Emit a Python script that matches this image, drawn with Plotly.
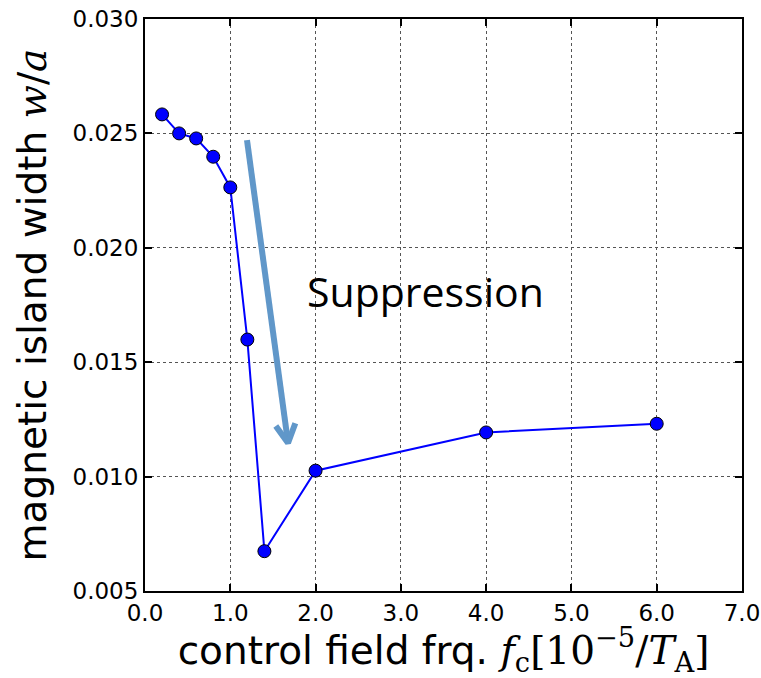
import math
import plotly.graph_objects as go

freq = [0.2, 0.4, 0.6, 0.8, 1.0, 1.2, 1.4, 2.0, 4.0, 6.0]
width = [0.02583, 0.02500, 0.02478, 0.02398, 0.02264, 0.01599, 0.00674, 0.01026, 0.01193, 0.01231]
x_ticks = [0, 1, 2, 3, 4, 5, 6, 7]
x_tick_labels = ["0.0", "1.0", "2.0", "3.0", "4.0", "5.0", "6.0", "7.0"]
y_ticks = [0.005, 0.010, 0.015, 0.020, 0.025, 0.030]
y_tick_labels = ["0.005", "0.010", "0.015", "0.020", "0.025", "0.030"]
arrow_start = (1.196, 0.02471)
arrow_end = (1.677, 0.01147)
label_pos = (3.29, 0.0181)

X_RANGE = [0, 7]
Y_RANGE = [0.005, 0.030]
W, H = 761, 678
M = dict(l=145, r=19, t=19, b=87)
plot_w = W - M["l"] - M["r"]
plot_h = H - M["t"] - M["b"]
sx = plot_w / (X_RANGE[1] - X_RANGE[0])
sy = plot_h / (Y_RANGE[1] - Y_RANGE[0])

# chevron arrow head computed in pixel space, converted back to data units
dx = (arrow_start[0] - arrow_end[0]) * sx
dy = -(arrow_start[1] - arrow_end[1]) * sy
L = math.hypot(dx, dy)
ux, uy = dx / L, dy / L
head_len, head_ang = 21, math.radians(28)
arms = []
for s in (1, -1):
    c, sn = math.cos(s * head_ang), math.sin(s * head_ang)
    px = (ux * c - uy * sn) * head_len
    py = (ux * sn + uy * c) * head_len
    arms.append((arrow_end[0] + px / sx, arrow_end[1] - py / sy))

tickfont = dict(family="DejaVu Sans", size=23, color="black")
serif = "font-family:'DejaVu Serif', serif"
arrow_color = "#6097c9"

fig = go.Figure()
fig.add_trace(go.Scatter(
    x=[arrow_start[0], arrow_end[0], None, arms[0][0], arrow_end[0], arms[1][0]],
    y=[arrow_start[1], arrow_end[1], None, arms[0][1], arrow_end[1], arms[1][1]],
    mode="lines", line=dict(color=arrow_color, width=6),
    showlegend=False, hoverinfo="skip",
))
fig.add_trace(go.Scatter(
    x=freq, y=width, mode="lines+markers",
    line=dict(color="#0000ff", width=2),
    marker=dict(color="#0000ff", size=13, line=dict(color="black", width=1)),
    showlegend=False, cliponaxis=False,
))

fig.add_annotation(
    x=label_pos[0], y=label_pos[1], xref="x", yref="y",
    text="Suppression", showarrow=False,
    font=dict(family="Open Sans", size=41, color="black"),
)

axis_common = dict(
    showline=True, linecolor="black", linewidth=2, mirror="allticks",
    ticks="inside", ticklen=7, tickwidth=1.5, tickcolor="black",
    showgrid=True, gridcolor="#555555", griddash="dot", gridwidth=1,
    zeroline=False, tickfont=tickfont, automargin=False,
)

fig.update_xaxes(
    range=X_RANGE, tickvals=x_ticks, ticktext=x_tick_labels, **axis_common,
    title=dict(
        text="control field frq. <span style=\"" + serif + "\"><i>f</i><sub>c</sub>[10<sup>−5</sup>/<i>T</i><sub>A</sub>]</span>",
        font=dict(family="DejaVu Sans", size=39, color="black"), standoff=10,
    ),
)
fig.update_yaxes(
    range=Y_RANGE, tickvals=y_ticks, ticktext=y_tick_labels, **axis_common,
    title=dict(
        text="magnetic island width <span style=\"" + serif + "\"><i>w</i>/<i>a</i></span>",
        font=dict(family="DejaVu Sans", size=39, color="black"), standoff=14,
    ),
)

fig.update_layout(
    width=W, height=H,
    margin=M,
    plot_bgcolor="white", paper_bgcolor="white",
)

fig.write_html("out.html", config={"displayModeBar": False},
               post_script="document.body.style.margin='0';")
